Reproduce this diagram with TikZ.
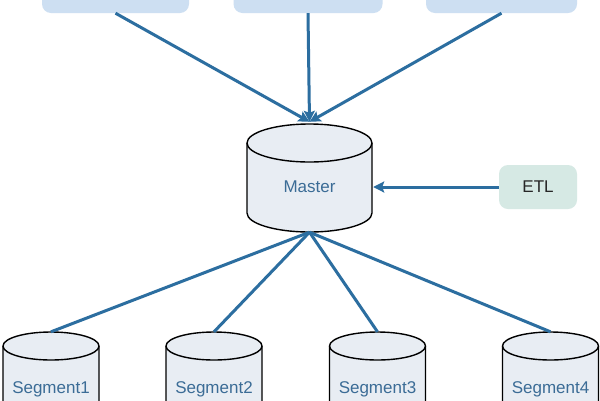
\documentclass[tikz,border=0pt]{standalone}
\usepackage{fontspec}
\setmainfont{Liberation Sans}
\usetikzlibrary{arrows.meta}
\definecolor{linkblue}{HTML}{2C6EA0}
\definecolor{txtblue}{HTML}{3B6C96}
\definecolor{cylfill}{HTML}{E8EDF3}
\definecolor{topfill}{HTML}{CDDFF2}
\definecolor{etlfill}{HTML}{D6E9E4}
\tikzset{
  cylbody/.style={fill=cylfill,draw=black,line width=1.4pt},
  cylline/.style={draw=black,line width=1.4pt},
  cylbox/.style={draw=none,inner sep=0pt,rectangle},
  cyllabel/.style={text=txtblue,font=\fontsize{17}{20}\selectfont,inner sep=0pt},
  topbox/.style={fill=topfill,draw=none,rounded corners=9pt,inner sep=0pt},
  etlbox/.style={fill=etlfill,draw=none,rounded corners=9pt,inner sep=0pt,
    minimum width=78pt,minimum height=44pt,font=\fontsize{17}{20}\selectfont,text=black!85},
  link/.style={draw=linkblue,line width=3pt},
  arrowlink/.style={link,-{Stealth[length=11pt,width=11pt,inset=2pt]}},
}
% name, cx, top, width, height, ry, label y
\newcommand\dbcyl[7]{%
  \pgfmathsetmacro\cL{#2-#4/2}\pgfmathsetmacro\cR{#2+#4/2}%
  \pgfmathsetmacro\cT{#3+#6}\pgfmathsetmacro\cB{#3+#5-#6}%
  \pgfmathsetmacro\hw{#4/2}%
  \path[cylbody] (\cL,\cT) -- (\cL,\cB)
     arc[start angle=180,end angle=360,x radius=\hw pt,y radius=#6pt]
     -- (\cR,\cT)
     arc[start angle=0,end angle=180,x radius=\hw pt,y radius=#6pt] -- cycle;
  \draw[cylline] (\cL,\cT)
     arc[start angle=180,end angle=360,x radius=\hw pt,y radius=#6pt];
  \node[cylbox,minimum width=#4pt,minimum height=#5pt] (#1) at (#2,#3+#5/2) {};
}
\begin{document}
\begin{tikzpicture}[x=1pt,y=-1pt]
\useasboundingbox (0,0) rectangle (600,400);
\fill[white] (0,0) rectangle (600,400);
\clip (0,0) rectangle (600,400);
% top boxes (cut off by the frame)
\node[topbox,minimum width=147pt,minimum height=50pt] (src1) at (115.5,-12) {};
\node[topbox,minimum width=149pt,minimum height=50pt] (src2) at (308,-12) {};
\node[topbox,minimum width=151pt,minimum height=50pt] (src3) at (501.5,-12) {};
% master
\dbcyl{master}{309.5}{124}{125}{108}{19}{187}
\node[cyllabel] (masterl) at (309.5,187) {Master};
% ETL
\node[etlbox] (etl) at (538,187) {ETL};
% segments
\dbcyl{seg1}{51}{332}{96}{100}{14}{389}
\node[cyllabel] (seg1l) at (51,389) {Segment1};
\dbcyl{seg2}{214}{332}{96}{100}{14}{389}
\node[cyllabel] (seg2l) at (214,389) {Segment2};
\dbcyl{seg3}{377.5}{332}{96}{100}{14}{389}
\node[cyllabel] (seg3l) at (377.5,389) {Segment3};
\dbcyl{seg4}{550.5}{332}{96}{100}{14}{389}
\node[cyllabel] (seg4l) at (550.5,389) {Segment4};
% connectors
\draw[arrowlink] (src1.south) -- ([yshift=2pt]master.north);
\draw[arrowlink] (src2.south) -- ([yshift=2pt]master.north);
\draw[arrowlink] (src3.south) -- ([yshift=2pt]master.north);
\draw[arrowlink] (etl.west) -- ([xshift=1pt]master.east |- etl.west);
\draw[link] (master.south) -- (seg1.north);
\draw[link] (master.south) -- (seg2.north);
\draw[link] (master.south) -- (seg3.north);
\draw[link] (master.south) -- (seg4.north);
\end{tikzpicture}
\end{document}
